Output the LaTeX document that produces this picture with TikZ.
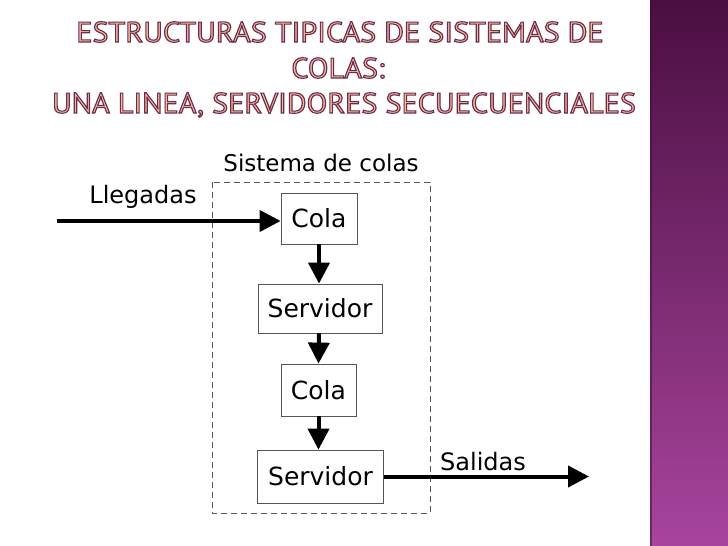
\documentclass[tikz,border=0pt]{standalone}
\usepackage{fontspec}
\setmainfont{DejaVu Sans}
\newfontfamily\titlefont{PT Sans}
\usetikzlibrary{arrows.meta}
\definecolor{barTop}{HTML}{4A0F41}
\definecolor{barBot}{HTML}{A8449D}
\definecolor{titleOut}{HTML}{6E2C4E}
\definecolor{titleFill}{HTML}{F6BE94}
\definecolor{boxLine}{HTML}{555555}
\newcommand{\ttl}[1]{\scalebox{1.06}[1]{\color{titleFill}\special{pdf:literal direct 2 Tr 1.1 w 0.43 0.17 0.31 RG}#1\special{pdf:literal direct 0 Tr}}}
\tikzset{
  stagebox/.style={draw=boxLine, line width=0.8pt, fill=white, inner sep=0pt, font=\fontsize{25}{30}\selectfont},
  lbl/.style={inner sep=0pt, font=\fontsize{24}{28}\selectfont},
  flow/.style={line width=4pt, -{Triangle[length=21pt,width=21pt]}},
  ttlnode/.style={anchor=base, inner sep=0pt, font=\titlefont\fontsize{28.5}{32}\selectfont}
}
\begin{document}
\begin{tikzpicture}[x=1pt,y=-1pt]
\useasboundingbox (0,0) rectangle (728,546);
\fill[white] (0,0) rectangle (728,546);
\shade[top color=barTop, bottom color=barBot] (650,0) rectangle (728,546);
\fill[barTop!80!black, opacity=0.5] (650,0) rectangle (652,546);
% title
\node[ttlnode] (t1) at (340,42) {\ttl{ESTRUCTURAS TIPICAS DE SISTEMAS DE}};
\node[ttlnode] (t2) at (338,78) {\ttl{COLAS:}};
\node[ttlnode] (t3) at (344,113) {\ttl{UNA LINEA, SERVIDORES SECUECUENCIALES}};
% system boundary
\draw[boxLine, line width=0.8pt, dash pattern=on 6pt off 4pt] (212,182) rectangle (430,513);
\node[lbl, font=\fontsize{23}{28}\selectfont] (sis) at (321,163) {Sistema de colas};
\node[lbl] (lleg) at (143,197) {Llegadas};
\node[lbl] (sal) at (483,462) {Salidas};
% stages
\node[stagebox, minimum width=76pt, minimum height=51pt] (cola1) at (319,218.5) {Cola};
\node[stagebox, minimum width=124pt, minimum height=49pt] (serv1) at (320,308.5) {Servidor};
\node[stagebox, minimum width=75pt, minimum height=52pt] (cola2) at (318.5,390) {Cola};
\node[stagebox, minimum width=126pt, minimum height=53pt] (serv2) at (320.5,476.5) {Servidor};
\coordinate (in) at (57,221);
\coordinate (out) at (589,479);
\draw[flow] (in) -- (in -| cola1.west);
\draw[flow] (cola1.south) -- (cola1.south |- serv1.north);
\draw[flow] (serv1.north |- serv1.south) ++(-1,0) -- (cola2.north);
\draw[flow] (cola2.south) -- (cola2.south |- serv2.north);
\draw[flow] (serv2.east) -- (serv2.east -| out);
\end{tikzpicture}
\end{document}
